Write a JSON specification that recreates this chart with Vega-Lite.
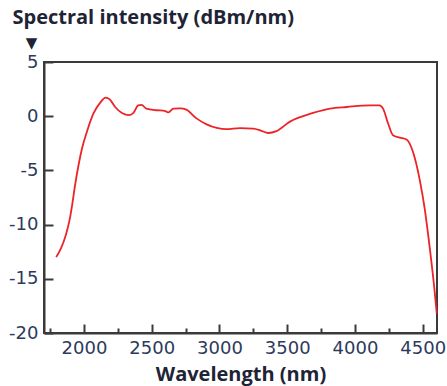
{
  "$schema": "https://vega.github.io/schema/vega-lite/v6.json",
  "width": 393,
  "height": 271,
  "autosize": {"type": "none"},
  "padding": {"left": 44, "top": 62, "right": 10, "bottom": 53},
  "background": "white",
  "config": {
    "view": {"stroke": "#3a3a3a", "strokeWidth": 2},
    "axis": {
      "grid": false,
      "domainColor": "#3a3a3a",
      "domainWidth": 2,
      "tickColor": "#3a3a3a",
      "tickWidth": 2,
      "labelFont": "DejaVu Sans",
      "labelFontSize": 18,
      "labelColor": "#2d3a5c",
      "titleFont": "Open Sans",
      "titleFontWeight": "bold",
      "titleFontSize": 20,
      "titleColor": "#1e2436"
    }
  },
  "data": {
    "values": [
      {"wavelength": 1795, "intensity": -13.0},
      {"wavelength": 1830, "intensity": -12.2},
      {"wavelength": 1865, "intensity": -11.0},
      {"wavelength": 1895, "intensity": -9.5},
      {"wavelength": 1915, "intensity": -8.0},
      {"wavelength": 1935, "intensity": -6.3},
      {"wavelength": 1960, "intensity": -4.5},
      {"wavelength": 1985, "intensity": -3.0},
      {"wavelength": 2020, "intensity": -1.5},
      {"wavelength": 2070, "intensity": 0.25},
      {"wavelength": 2120, "intensity": 1.25},
      {"wavelength": 2160, "intensity": 1.72},
      {"wavelength": 2190, "intensity": 1.55},
      {"wavelength": 2230, "intensity": 0.85},
      {"wavelength": 2280, "intensity": 0.3},
      {"wavelength": 2335, "intensity": 0.1},
      {"wavelength": 2365, "intensity": 0.3},
      {"wavelength": 2400, "intensity": 1.0},
      {"wavelength": 2425, "intensity": 1.05},
      {"wavelength": 2460, "intensity": 0.7},
      {"wavelength": 2535, "intensity": 0.55},
      {"wavelength": 2595, "intensity": 0.5},
      {"wavelength": 2620, "intensity": 0.35},
      {"wavelength": 2660, "intensity": 0.7},
      {"wavelength": 2710, "intensity": 0.72},
      {"wavelength": 2755, "intensity": 0.6},
      {"wavelength": 2830, "intensity": -0.2},
      {"wavelength": 2905, "intensity": -0.75},
      {"wavelength": 2980, "intensity": -1.08},
      {"wavelength": 3050, "intensity": -1.2},
      {"wavelength": 3150, "intensity": -1.1},
      {"wavelength": 3250, "intensity": -1.15},
      {"wavelength": 3300, "intensity": -1.3},
      {"wavelength": 3360, "intensity": -1.55},
      {"wavelength": 3420, "intensity": -1.38},
      {"wavelength": 3520, "intensity": -0.5},
      {"wavelength": 3690, "intensity": 0.3},
      {"wavelength": 3815, "intensity": 0.7},
      {"wavelength": 3940, "intensity": 0.85},
      {"wavelength": 4110, "intensity": 1.0},
      {"wavelength": 4180, "intensity": 1.0},
      {"wavelength": 4207, "intensity": 0.7},
      {"wavelength": 4245, "intensity": -0.7},
      {"wavelength": 4280, "intensity": -1.75},
      {"wavelength": 4330, "intensity": -1.97},
      {"wavelength": 4380, "intensity": -2.15},
      {"wavelength": 4428, "intensity": -3.3},
      {"wavelength": 4478, "intensity": -5.9},
      {"wavelength": 4515, "intensity": -8.6},
      {"wavelength": 4552, "intensity": -12.2},
      {"wavelength": 4588, "intensity": -16.2},
      {"wavelength": 4603, "intensity": -18.2}
    ]
  },
  "layer": [
    {
      "mark": {"type": "line", "color": "#ec2327", "strokeWidth": 1.8, "interpolate": "monotone"},
      "encoding": {
        "x": {
          "field": "wavelength",
          "type": "quantitative",
          "scale": {"domain": [1705, 4605], "nice": false, "zero": false},
          "axis": {
            "values": [2000, 2500, 3000, 3500, 4000, 4500],
            "format": "d",
            "tickSize": -9,
            "labelPadding": 15,
            "title": "Wavelength (nm)",
            "titlePadding": 7
          }
        },
        "y": {
          "field": "intensity",
          "type": "quantitative",
          "scale": {"domain": [-20, 5], "nice": false, "zero": false},
          "axis": {
            "values": [-20, -15, -10, -5, 0, 5],
            "labelExpr": "datum.value + ''",
            "tickSize": -9,
            "labelPadding": 15,
            "title": "Spectral intensity (dBm/nm)",
            "titleAngle": 0,
            "titleAlign": "left",
            "titleBaseline": "top",
            "titleX": -32,
            "titleY": -55
          }
        }
      }
    },
    {
      "mark": {"type": "line", "opacity": 0},
      "encoding": {
        "x": {
          "field": "wavelength",
          "type": "quantitative",
          "scale": {"domain": [1705, 4605], "nice": false, "zero": false},
          "axis": {
            "orient": "bottom",
            "values": [1750, 2250, 2750, 3250, 3750, 4250],
            "tickSize": -5,
            "labels": false,
            "domain": false,
            "title": null
          }
        },
        "y": {
          "field": "intensity",
          "type": "quantitative",
          "scale": {"domain": [-20, 5], "nice": false, "zero": false},
          "axis": {
            "orient": "left",
            "labels": false,
            "ticks": false,
            "domain": false,
            "title": "▼",
            "titleFont": "DejaVu Sans",
            "titleFontWeight": "normal",
            "titleFontSize": 15,
            "titleColor": "#1e2436",
            "titleAngle": 0,
            "titleAlign": "center",
            "titleBaseline": "middle",
            "titleX": -13,
            "titleY": -20
          }
        }
      }
    }
  ],
  "resolve": {"axis": {"x": "independent", "y": "independent"}}
}
